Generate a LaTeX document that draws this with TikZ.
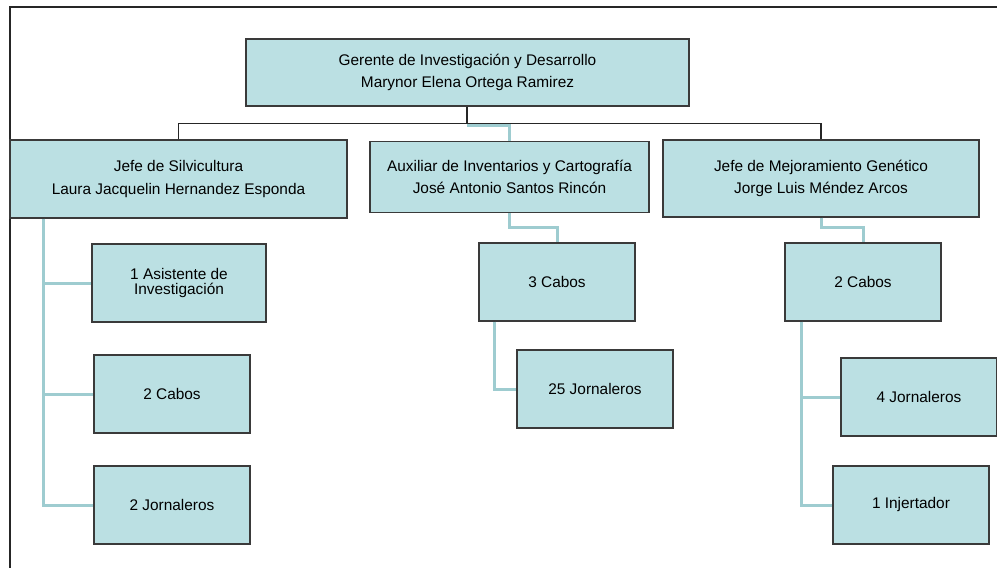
\documentclass[tikz,border=0pt]{standalone}
\usepackage{fontspec}
\setmainfont{Liberation Sans}
\definecolor{boxfill}{RGB}{187,224,227}
\definecolor{boxline}{RGB}{58,58,58}
\definecolor{tealline}{RGB}{158,204,208}
\begin{document}
\begin{tikzpicture}[x=1pt,y=-1pt,
  orgbox/.style={draw=boxline,line width=1.4pt,fill=boxfill,inner sep=0pt,align=center,
    font=\fontsize{15.4}{22.6}\selectfont},
  blackline/.style={draw=black!85,line width=1.3pt},
  tealconn/.style={draw=tealline,line width=3pt}]
\useasboundingbox (0,0) rectangle (997,568);
\fill[white] (0,0) rectangle (997,568);
% frame
\draw[black!85,line width=1.3pt] (10,568) -- (10,7) -- (997,7);
% boxes
\node[orgbox,minimum width=443pt,minimum height=67pt] (top) at (467.5,72.5) {Gerente de Investigación y Desarrollo\\Marynor Elena Ortega Ramirez};
\node[orgbox,minimum width=337pt,minimum height=78pt] (silv) at (178.5,179) {Jefe de Silvicultura\\Laura Jacquelin Hernandez Esponda};
\node[orgbox,minimum width=279pt,minimum height=71pt] (aux) at (509.5,177) {Auxiliar de Inventarios y Cartografía\\José Antonio Santos Rincón};
\node[orgbox,minimum width=316pt,minimum height=77pt] (mej) at (821,178.5) {Jefe de Mejoramiento Genético\\Jorge Luis Méndez Arcos};
\node[orgbox,minimum width=174pt,minimum height=78pt,font=\fontsize{15.4}{15.5}\selectfont] (asis) at (179,283) {1 Asistente de\\Investigación};
\node[orgbox,minimum width=156pt,minimum height=78pt] (cabA) at (172,394) {2 Cabos};
\node[orgbox,minimum width=156pt,minimum height=78pt] (jorA) at (172,505) {2 Jornaleros};
\node[orgbox,minimum width=156pt,minimum height=78pt] (cabB) at (557,282) {3 Cabos};
\node[orgbox,minimum width=156pt,minimum height=78pt] (jorB) at (595,389) {25 Jornaleros};
\node[orgbox,minimum width=156pt,minimum height=78pt] (cabC) at (863,282) {2 Cabos};
\node[orgbox,minimum width=156pt,minimum height=78pt] (jorC) at (919,397) {4 Jornaleros};
\node[orgbox,minimum width=156pt,minimum height=78pt] (inj) at (911,505) {1 Injertador};
% black connectors
\coordinate (hub) at (467,123.5);
\coordinate (hl) at (178.5,123.5);
\coordinate (hr) at (821,123.5);
\draw[blackline] (top.south -| hub) -- (hub);
\draw[blackline] (silv.north) -- (hl) -- (hr) -- (mej.north);
% teal connectors
\draw[tealconn] (467,125) -- (509.5,125) -- (aux.north);
\coordinate (la) at (43,0);
\draw[tealconn] (silv.south -| la) -- (jorA.west -| la) -- (jorA.west);
\draw[tealconn] (asis.west -| la) -- (asis.west);
\draw[tealconn] (cabA.west -| la) -- (cabA.west);
\coordinate (ma) at (509.5,227);
\draw[tealconn] (aux.south) -- (ma) -- (ma -| cabB.north) -- (cabB.north);
\coordinate (mb) at (494,0);
\draw[tealconn] (cabB.south -| mb) -- (jorB.west -| mb) -- (jorB.west);
\coordinate (ra) at (821,227);
\draw[tealconn] (mej.south) -- (ra) -- (ra -| cabC.north) -- (cabC.north);
\coordinate (rb) at (801,0);
\draw[tealconn] (cabC.south -| rb) -- (inj.west -| rb) -- (inj.west);
\draw[tealconn] (jorC.west -| rb) -- (jorC.west);
\end{tikzpicture}
\end{document}
